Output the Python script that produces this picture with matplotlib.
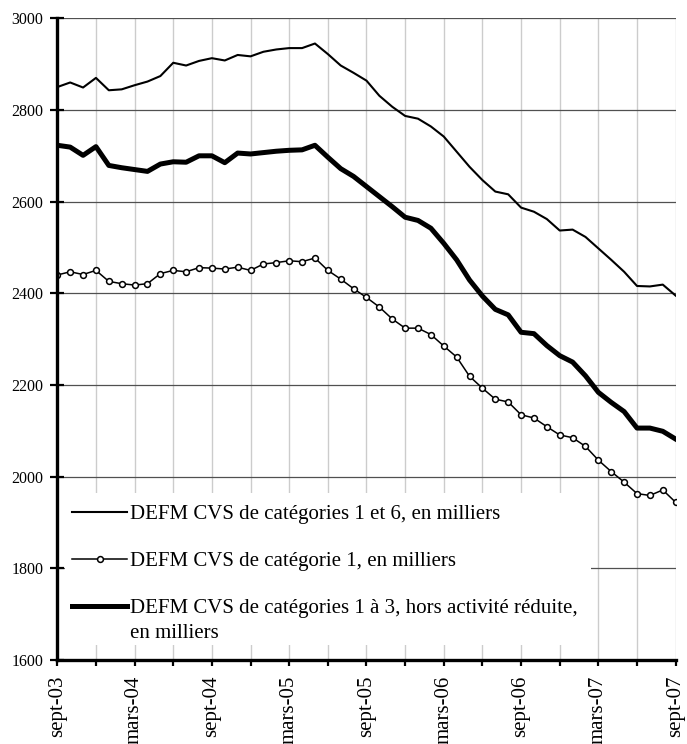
import matplotlib
matplotlib.use("Agg")
import matplotlib.pyplot as plt
from matplotlib.patches import Rectangle
import numpy as np

plt.rcParams['font.family'] = ['Liberation Serif', 'DejaVu Serif']

# Monthly series, sept-03 .. sept-07 (49 months)
cat_1_6 = [2850, 2860, 2849, 2870, 2843, 2845, 2854, 2862, 2874, 2903,
           2897, 2907, 2913, 2908, 2920, 2917, 2927, 2932, 2935, 2935,
           2945, 2922, 2897, 2881, 2864, 2831, 2807, 2787, 2781, 2764,
           2742, 2709, 2676, 2647, 2622, 2616, 2587, 2578, 2562, 2537,
           2539, 2523, 2498, 2473, 2447, 2416, 2415, 2419, 2395]
cat_1 = [2440, 2447, 2441, 2450, 2426, 2421, 2418, 2421, 2443, 2450,
         2447, 2456, 2455, 2453, 2457, 2450, 2464, 2467, 2471, 2469,
         2477, 2450, 2431, 2410, 2391, 2370, 2344, 2324, 2324, 2310,
         2285, 2261, 2219, 2193, 2169, 2163, 2135, 2128, 2109, 2091,
         2085, 2066, 2036, 2011, 1988, 1963, 1959, 1971, 1944]
cat_1_3 = [2723, 2719, 2701, 2720, 2679, 2674, 2670, 2666, 2682, 2687,
           2686, 2700, 2700, 2685, 2706, 2704, 2707, 2710, 2712, 2713,
           2723, 2697, 2672, 2655, 2633, 2611, 2589, 2566, 2559, 2542,
           2509, 2473, 2429, 2394, 2365, 2353, 2315, 2312, 2286, 2264,
           2250, 2220, 2184, 2162, 2142, 2106, 2106, 2099, 2082]
tick_labels = ["sept-03", "mars-04", "sept-04", "mars-05", "sept-05",
               "mars-06", "sept-06", "mars-07", "sept-07"]
labels = ["DEFM CVS de catégories 1 et 6, en milliers",
          "DEFM CVS de catégorie 1, en milliers",
          "DEFM CVS de catégories 1 à 3, hors activité réduite,"]
label_extra = "en milliers"
y_ticks = [1600, 1800, 2000, 2200, 2400, 2600, 2800, 3000]

x = np.arange(len(cat_1_6))

fig = plt.figure(figsize=(6.87, 7.44), dpi=100)
ax = fig.add_axes([0.0834, 0.1129, 0.9001, 0.8625])

ax.set_axisbelow(True)
l1, = ax.plot(x, cat_1_6, color='black', lw=1.5, zorder=3)
l2, = ax.plot(x, cat_1, color='black', lw=1.1, marker='o', markersize=4.2,
              markerfacecolor='white', markeredgecolor='black',
              markeredgewidth=1.1, zorder=3)
l3, = ax.plot(x, cat_1_3, color='black', lw=3.6, zorder=3)

ax.set_xlim(0, len(x) - 1)
ax.set_ylim(1600, 3000)

ax.set_xticks(np.arange(0, len(x), 6))
ax.set_xticks(np.arange(0, len(x), 3), minor=True)
ax.set_xticklabels(tick_labels, rotation=90, fontsize=15)
ax.set_yticks(y_ticks)
ax.set_yticklabels([str(v) for v in y_ticks], fontsize=11.5)

ax.tick_params(axis='x', which='both', direction='out', length=4.5, width=1.6,
               color='black', pad=6.5)
ax.tick_params(axis='y', direction='inout', length=10, width=1.6,
               color='black', pad=5)

ax.grid(axis='y', which='major', color='#505050', lw=0.9)
ax.grid(axis='x', which='both', color='#cccccc', lw=1.0)

for s in ['top', 'right']:
    ax.spines[s].set_visible(False)
for s in ['left', 'bottom']:
    ax.spines[s].set_linewidth(2.4)
    ax.spines[s].set_color('black')
    ax.spines[s].set_zorder(4)

# white legend area
ax.add_patch(Rectangle((0.0125, 0.023), 0.8505, 0.237, transform=ax.transAxes,
                       facecolor='white', edgecolor='none', zorder=1.5))

leg = ax.legend([l1, l2, l3], labels, loc='upper left',
                bbox_to_anchor=(0.0238, 0.2417), frameon=False,
                fontsize=15, borderpad=0, borderaxespad=0,
                handlelength=2.64, handletextpad=0.15, labelspacing=1.31)
leg.set_zorder(5)

fig.canvas.draw()
tb = leg.get_texts()[2].get_window_extent()
W, H = fig.bbox.width, fig.bbox.height
fig.text(tb.x0 / W, (tb.y0 - 25) / H, label_extra, fontsize=15,
         ha='left', va='bottom', zorder=6)

fig.savefig("out.png", dpi=100)
